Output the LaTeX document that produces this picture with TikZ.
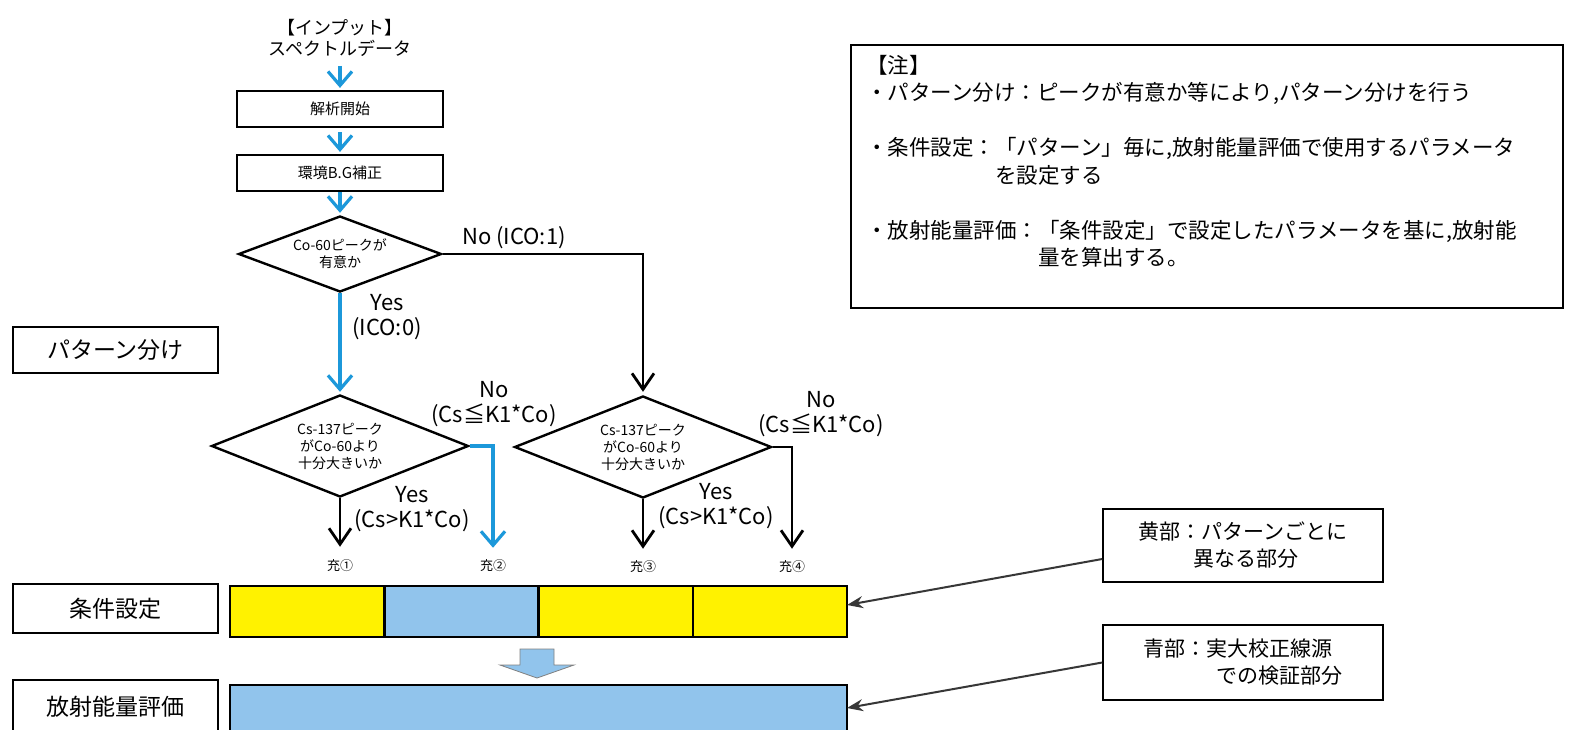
\documentclass[tikz,border=0pt]{standalone}
\usepackage{fontspec}
\setmainfont{Noto Sans CJK JP}
\usetikzlibrary{arrows.meta,shapes.geometric,positioning}

\definecolor{flowblue}{RGB}{28,152,218}
\definecolor{cellyellow}{RGB}{255,242,0}
\definecolor{cellblue}{RGB}{145,196,236}
\definecolor{keygray}{RGB}{55,55,55}

\tikzset{
  procbox/.style={draw, line width=2.2pt, minimum width=206pt, minimum height=36pt,
    inner sep=0pt, font=\fontsize{15}{18}\selectfont},
  decision/.style={diamond, draw, line width=2.4pt, inner sep=0pt, aspect=2.5,
    align=center, font=\fontsize{14}{17}\selectfont},
  sidebox/.style={draw, line width=1.6pt, minimum width=205pt, inner sep=0pt,
    font=\fontsize{23}{27}\selectfont},
  cell/.style={draw, line width=2.5pt, minimum width=154.25pt, minimum height=51pt,
    inner sep=0pt, outer sep=0pt},
  branch/.style={align=center, inner sep=0pt, font=\fontsize{22}{24.5}\selectfont},
  outlabel/.style={inner sep=1pt, font=\fontsize{13}{15}\selectfont},
  keybox/.style={draw, line width=1.6pt, minimum width=280pt, align=left,
    inner sep=0pt, font=\fontsize{21}{27}\selectfont},
  blueflow/.style={draw=flowblue, line width=3.2pt, -{Straight Barb[length=14pt,width=24pt]}},
  blackflow/.style={draw=black, line width=2.8pt, -{Straight Barb[length=16pt,width=22pt]}},
  keyarrow/.style={draw=keygray, line width=2pt, -{Stealth[length=16pt,width=12pt]}}
}

\begin{document}
\begin{tikzpicture}[x=1pt,y=-1pt]
  \useasboundingbox (0,0) rectangle (1574,729);
  \clip (0,0) rectangle (1574,729);
  \fill[white] (0,0) rectangle (1574,729);

  % flow chart
  \node[align=center, inner sep=0pt, font=\fontsize{18}{21}\selectfont] (input) at (340,38)
    {【インプット】\\スペクトルデータ};
  \node[procbox] (start) at (340,109) {解析開始};
  \node[procbox] (bgcorr) at (340,173) {環境B.G補正};
  \node[decision, minimum width=203pt, minimum height=76pt] (co) at (340,254)
    {Co-60ピークが\\有意か};
  \node[decision, minimum width=257pt, minimum height=102pt] (csa) at (340,446)
    {Cs-137ピーク\\がCo-60より\\十分大きいか};
  \node[decision, minimum width=257pt, minimum height=102pt] (csb) at (643,447)
    {Cs-137ピーク\\がCo-60より\\十分大きいか};

  \node[outlabel] (t1) at (340,566) {充①};
  \node[outlabel] (t2) at (493,566) {充②};
  \node[outlabel] (t3) at (643,567) {充③};
  \node[outlabel] (t4) at (792,567) {充④};

  \draw[blueflow, shorten <=9pt, shorten >=2pt] (input) -- (start);
  \draw[blueflow, shorten <=4pt, shorten >=2pt] (start) -- (bgcorr);
  \draw[blueflow, shorten >=2pt] (bgcorr) -- (co);
  \draw[blueflow, shorten >=2pt] (co) -- (csa);
  \draw[blackflow, shorten >=3pt] (co.east) -| (csb.north);
  \draw[blackflow, shorten >=12pt] (csa.south) -- (t1.north);
  \draw[blueflow, shorten >=11pt] (csa.east) -| (t2.north);
  \draw[blackflow, shorten >=11pt] (csb.south) -- (t3.north);
  \draw[blackflow, shorten >=11pt] (csb.east) -| (t4.north);

  % branch labels
  \node[branch] (no1) at (514,238) {No (ICO:1)};
  \node[branch] (yes1) at (387,317) {Yes\\(ICO:0)};
  \node[branch] (no2) at (494,404) {No\\(Cs≦K1*Co)};
  \node[branch] (yes2) at (412,509) {Yes\\(Cs>K1*Co)};
  \node[branch] (no3) at (821,414) {No\\(Cs≦K1*Co)};
  \node[branch] (yes3) at (716,506) {Yes\\(Cs>K1*Co)};

  % left side labels
  \node[sidebox, minimum height=46pt] (patlabel) at (115.5,350) {パターン分け};
  \node[sidebox, minimum height=49pt] (condlabel) at (115.5,608.5) {条件設定};
  \node[sidebox, minimum height=54pt] (evallabel) at (115.5,707) {放射能量評価};

  % condition bar and evaluation bar
  \node[cell, fill=cellyellow] (c1) at (307.125,611.5) {};
  \node[cell, fill=cellblue, right=0pt of c1] (c2) {};
  \node[cell, fill=cellyellow, right=0pt of c2] (c3) {};
  \node[cell, fill=cellyellow, right=0pt of c3] (c4) {};
  \draw[fill=cellblue, draw=gray, line width=0.8pt]
    (520,649) -- (554,649) -- (554,665) -- (574,665) -- (537,678)
    -- (500,665) -- (520,665) -- cycle;
  \node[cell, fill=cellblue, minimum width=617pt, minimum height=60pt,
    anchor=north west] (evalbar) at (230,685) {};

  % notes
  \node[draw, line width=2pt, minimum width=712pt, minimum height=263pt] (notebox)
    at (1207,176.5) {};
  \node[anchor=north west, align=left, inner sep=0pt, font=\fontsize{21.5}{27.5}\selectfont]
    (notetext) at (866,55) {%
    【注】\\
    ・パターン分け：ピークが有意か等により,パターン分けを行う\\[27.5pt]
    ・条件設定：「パターン」毎に,放射能量評価で使用するパラメータ\\
    \phantom{・条件設定：}を設定する\\[27.5pt]
    ・放射能量評価：「条件設定」で設定したパラメータを基に,放射能\\
    \phantom{・放射能量評価：}量を算出する。};

  % colour keys
  \node[keybox, minimum height=73pt] (yellowkey) at (1243,545.5)
    {黄部：パターンごとに\\\hspace*{2.6em}異なる部分};
  \node[keybox, minimum height=75pt] (bluekey) at (1243,662.5)
    {青部：実大校正線源\\\hspace*{3.5em}での検証部分};
  \draw[keyarrow] ([yshift=-13.5pt]yellowkey.west) -- ([yshift=6.5pt]c4.east);
  \draw[keyarrow] (bluekey.west) -- ([yshift=7pt]evalbar.east);
\end{tikzpicture}
\end{document}
